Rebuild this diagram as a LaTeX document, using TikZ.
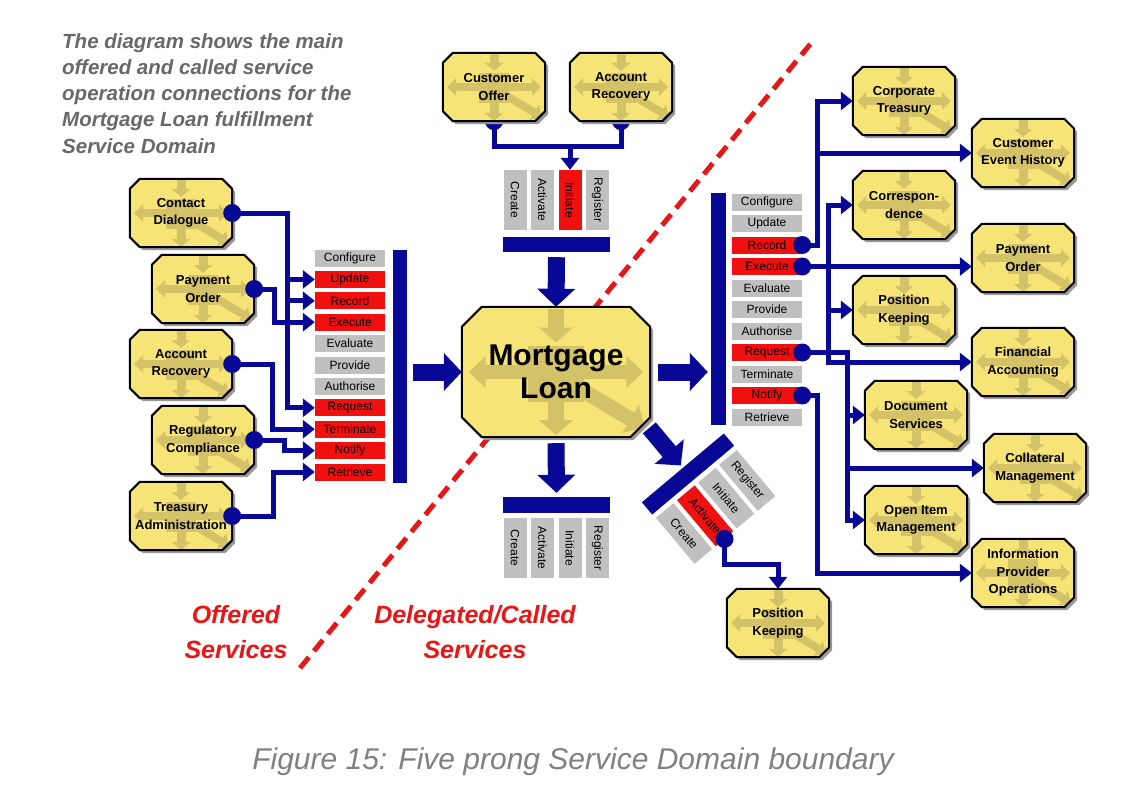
\documentclass[tikz,border=0pt]{standalone}
\usepackage{fontspec}
\setmainfont{Liberation Sans}
\usetikzlibrary{arrows.meta,calc}

\definecolor{sdnavy}{RGB}{8,8,150}
\definecolor{sdred}{RGB}{232,22,22}
\definecolor{opgray}{RGB}{192,192,192}
\definecolor{opred}{RGB}{240,16,16}
\definecolor{boxyellow}{RGB}{246,228,118}
\definecolor{boxkhaki}{RGB}{211,194,104}
\definecolor{notegray}{RGB}{104,104,104}
\definecolor{capgray}{RGB}{128,128,128}

\pgfdeclarelayer{back}
\pgfsetlayers{back,main}

% octagon round a node: name, chamfer, offset, path options
\newcommand{\octo}[4]{%
  \path[#4] ($(#1.north west)+(#2+#3,#3)$) -- ($(#1.north east)+(-#2+#3,#3)$)
    -- ($(#1.north east)+(#3,#2+#3)$) -- ($(#1.south east)+(#3,-#2+#3)$)
    -- ($(#1.south east)+(-#2+#3,#3)$) -- ($(#1.south west)+(#2+#3,#3)$)
    -- ($(#1.south west)+(#3,-#2+#3)$) -- ($(#1.north west)+(#3,#2+#3)$) -- cycle;}

% service domain box behind a node: name, chamfer, arrow scale
\newcommand{\sdbase}[3]{%
  \begin{pgfonlayer}{back}
    \octo{#1}{#2}{3}{fill=black!40}
    \octo{#1}{#2}{0}{fill=boxyellow}
    \begin{scope}
      \octo{#1}{#2}{0}{clip}
      \begin{scope}[shift={(#1.center)}, scale=#3, boxkhaki]
        \fill (-15,-14) rectangle (15,16);
        \draw[line width=#3*8pt, {Triangle[length=9pt,width=17pt,scale=#3]}-{Triangle[length=9pt,width=17pt,scale=#3]}] (-47,0) -- (47,0);
        \draw[line width=#3*9pt, -{Triangle[length=8pt,width=18pt,scale=#3]}] (0,-34) -- (0,-16);
        \draw[line width=#3*9pt, -{Triangle[length=8pt,width=18pt,scale=#3]}] (0,15) -- (0,34);
        \draw[line width=#3*8pt, -{Triangle[length=9pt,width=17pt,scale=#3]}] (6,5) -- (48,30);
      \end{scope}
    \end{scope}
    \octo{#1}{#2}{0}{draw=black, line width=2pt}
  \end{pgfonlayer}}

\tikzset{
  sdbox/.style={rectangle, minimum width=102pt, minimum height=68pt, inner sep=0pt, align=center,
    font=\fontsize{13}{17.5}\selectfont\bfseries},
  mlbox/.style={sdbox, minimum width=188pt, minimum height=130pt, font=\fontsize{30}{33}\selectfont\bfseries},
  op/.style={fill=opgray, minimum width=70pt, minimum height=17pt, inner sep=0pt,
    font=\fontsize{12}{12}\selectfont, text=black},
  vop/.style={op, minimum width=60pt, minimum height=23pt, rotate=-90},
  bar/.style={fill=sdnavy, inner sep=0pt},
  link/.style={sdnavy, line width=5pt, -{Triangle[length=12pt,width=18pt]}},
  bigarrow/.style={sdnavy, line width=17pt, -{Triangle[length=18pt,width=37pt]}},
  dot/.style={fill=sdnavy}
}

\begin{document}
\begin{tikzpicture}[x=1pt, y=-1pt]

  % Page and boundary, behind everything
  \useasboundingbox (0,0) rectangle (1129,808);
  \begin{pgfonlayer}{back}
    \fill[white] (0,0) rectangle (1129,808);
    \draw[sdred, line width=5pt, dash pattern=on 14pt off 8pt] (300,668) -- (812,42);
  \end{pgfonlayer}

  % Notes
  \node[anchor=north west, inner sep=0pt, align=left, text=notegray,
        font=\fontsize{20.5}{26.3}\selectfont\bfseries\itshape] (note) at (62,33)
    {The diagram shows the main\\offered and called service\\operation connections for the\\Mortgage Loan fulfillment\\Service Domain};
  \node[align=center, text=sdred, font=\fontsize{25}{35}\selectfont\bfseries\itshape] (offered) at (236,632) {Offered\\Services};
  \node[align=center, text=sdred, font=\fontsize{25}{35}\selectfont\bfseries\itshape] (called) at (475,632) {Delegated/Called\\Services};
  \node[text=capgray, font=\fontsize{30}{30}\selectfont\itshape] (caption) at (573,762) {Figure 15: Five prong Service Domain boundary};

  % Service domains
  \node[mlbox] (ml) at (556,372) {Mortgage\\Loan};

  \node[sdbox] (cd) at (181,213) {Contact\\Dialogue};
  \node[sdbox] (po) at (203,289) {Payment\\Order};
  \node[sdbox] (ar) at (181,364) {Account\\Recovery};
  \node[sdbox] (rc) at (203,440) {Regulatory\\Compliance};
  \node[sdbox] (ta) at (181,516) {Treasury\\Administration};

  \node[sdbox] (co) at (494,87) {Customer\\Offer};
  \node[sdbox] (ar2) at (621,87) {Account\\Recovery};

  \node[sdbox] (ct) at (904,101) {Corporate\\Treasury};
  \node[sdbox] (corr) at (904,205) {Correspon-\\dence};
  \node[sdbox] (pk) at (904,310) {Position\\Keeping};
  \node[sdbox] (ds) at (916,415) {Document\\Services};
  \node[sdbox] (oim) at (916,520) {Open Item\\Management};

  \node[sdbox] (ceh) at (1023,153) {Customer\\Event History};
  \node[sdbox] (po2) at (1023,258) {Payment\\Order};
  \node[sdbox] (fa) at (1023,362) {Financial\\Accounting};
  \node[sdbox] (cm) at (1035,468) {Collateral\\Management};
  \node[sdbox] (ipo) at (1023,573) {Information\\Provider\\Operations};

  \node[sdbox] (pk2) at (778,623) {Position\\Keeping};

  % Offered operations
  \node[bar, minimum width=14pt, minimum height=233pt] (lbar) at (400,366.5) {};
  \foreach \nm/\txt/\col [count=\i from 0] in {conf/Configure/opgray, upd/Update/opred, rec/Record/opred,
      exe/Execute/opred, eva/Evaluate/opgray, pro/Provide/opgray, aut/Authorise/opgray, req/Request/opred,
      ter/Terminate/opred, not/Notify/opred, ret/Retrieve/opred}
    \node[op, fill=\col] (l\nm) at (350,{258+21.4*\i}) {\txt};

  \node[bar, minimum width=107pt, minimum height=15pt] (tbar) at (556.5,244.5) {};
  \foreach \nm/\txt/\col [count=\i from 0] in {cre/Create/opgray, act/Activate/opgray, ini/Initiate/opred, reg/Register/opgray}
    \node[vop, fill=\col] (t\nm) at ({515+27.5*\i},200) {\txt};

  % Called operations
  \node[bar, minimum width=15pt, minimum height=232pt] (rbar) at (718.5,309) {};
  \foreach \nm/\txt/\col [count=\i from 0] in {conf/Configure/opgray, upd/Update/opgray, rec/Record/opred,
      exe/Execute/opred, eva/Evaluate/opgray, pro/Provide/opgray, aut/Authorise/opgray, req/Request/opred,
      ter/Terminate/opgray, not/Notify/opred, ret/Retrieve/opgray}
    \node[op, fill=\col] (r\nm) at (767,{202+21.5*\i}) {\txt};

  \node[bar, minimum width=107pt, minimum height=16pt] (bbar) at (556.5,505) {};
  \foreach \nm/\txt [count=\i from 0] in {cre/Create, act/Activate, ini/Initiate, reg/Register}
    \node[vop] (b\nm) at ({515+27.5*\i},548) {\txt};

  \begin{scope}[shift={(688,474)}, rotate=40, transform shape]
    \node[bar, minimum width=107pt, minimum height=16pt] (dbar) at (0,0) {};
    \foreach \nm/\txt/\col [count=\i from 0] in {cre/Create/opgray, act/Activate/opred, ini/Initiate/opgray, reg/Register/opgray}
      \node[vop, fill=\col] (d\nm) at ({-41.25+27.5*\i},43) {\txt};
  \end{scope}

  % Top connection, under its boxes
  \begin{pgfonlayer}{back}
    \coordinate (tj) at ($(co.south)+(0,25)$);
    \draw[sdnavy, line width=5pt] (co.south) -- (tj) -| (ar2.south);
    \foreach \b in {co,ar2}
      \fill[dot] (\b.south) circle (9);
  \end{pgfonlayer}
  \draw[link] (tj -| tini.west) -- (tini.west);

  % Box faces
  \sdbase{ml}{20}{1.85}
  \foreach \b in {cd,po,ar,rc,ta,co,ar2,ct,corr,pk,ds,oim,ceh,po2,fa,cm,ipo,pk2}
    {\sdbase{\b}{10}{1}}

  % Prongs
  \draw[bigarrow] ($(lbar.east |- ml.west)+(6,0)$) -- (ml.west);
  \draw[bigarrow] ([xshift=8pt]ml.east) -- ($(rbar.west |- ml.east)+(-3,0)$);
  \draw[bigarrow] ([yshift=-5pt]tbar.south) -- (ml.north);
  \draw[bigarrow] ([yshift=-6pt]ml.south) -- ([yshift=4pt]bbar.north);
  \draw[bigarrow] ($(dbar.north)!-52pt!(dbar.south)$) -- ($(dbar.north)!-3pt!(dbar.south)$);

  % Offered connections
  \coordinate (sA) at ($(cd.east)+(55,0)$);
  \draw[link] (cd.east) -- (sA) |- (lreq.west);
  \draw[link] (sA |- lupd.west) -- (lupd.west);
  \draw[link] (sA |- lrec.west) -- (lrec.west);
  \draw[link] (po.east) -- ++(20,0) |- (lexe.west);
  \draw[link] (ar.east) -- ++(40,0) |- (lter.west);
  \draw[link] (rc.east) -- ++(30,0) |- (lnot.west);
  \draw[link] (ta.east) -- ++(41,0) |- (lret.west);
  \foreach \b in {cd,po,ar,rc,ta}
    \fill[dot] (\b.east) circle (9);

  % Called connections
  \coordinate (sR) at ($(rrec.east)+(15,0)$);
  \draw[link] (rrec.east) -- (sR) |- (ct.west);
  \draw[link] (sR) |- (ceh.west);

  \coordinate (sE) at ($(rexe.east)+(26,0)$);
  \draw[link] (rexe.east) -- (rexe.east -| po2.west);
  \draw[link] (sE) |- (corr.west);
  \draw[link] (sE) |- (pk.west);
  \draw[link] (sE) |- (fa.west);

  \coordinate (sQ) at ($(rreq.east)+(45,0)$);
  \draw[link] (rreq.east) -- (sQ) |- (oim.west);
  \draw[link] (sQ) |- (ds.west);
  \draw[link] (sQ) |- (cm.west);

  \draw[link] (rnot.east) -- ++(15,0) |- (ipo.west);

  \draw[link] (dact.east) -- ++(0,26) -| (pk2.north);

  \foreach \n in {rrec,rexe,rreq,rnot,dact}
    \fill[dot] (\n.east) circle (9);

\end{tikzpicture}
\end{document}
